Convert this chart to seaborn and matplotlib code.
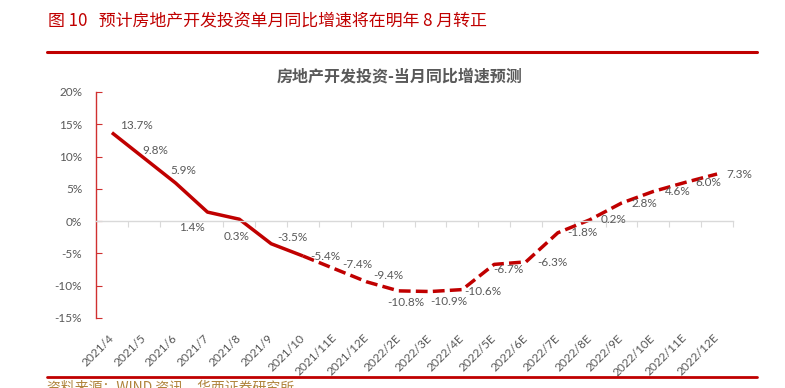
import numpy as np
import pandas as pd
import matplotlib
matplotlib.use("Agg")
import matplotlib.pyplot as plt
import seaborn as sns

# ---------------- data ----------------
categories = ["2021/4", "2021/5", "2021/6", "2021/7", "2021/8", "2021/9", "2021/10",
              "2021/11E", "2021/12E", "2022/2E", "2022/3E", "2022/4E", "2022/5E",
              "2022/6E", "2022/7E", "2022/8E", "2022/9E", "2022/10E", "2022/11E", "2022/12E"]
values = [13.7, 9.8, 5.9, 1.4, 0.3, -3.5, -5.4, -7.4, -9.4, -10.8, -10.9, -10.6,
          -6.7, -6.3, -1.8, 0.2, 2.8, 4.6, 6.0, 7.3]
n_actual = 7  # 2021/4 .. 2021/10 are actual values; forecast starts from 2021/10
yticks = [20, 15, 10, 5, 0, -5, -10, -15]

# label offsets (pixels) relative to each point: (dx, dy up)
label_offsets = [(25, 7), (12, 7), (8, 13), (-16, -15), (-3, -17), (21, 6), (22, 0),
                 (22, 4), (22, 6), (7, -12), (18, -10), (21, -2), (14, -5), (26, -1),
                 (25, 0), (24, 0), (23, 0), (24, 0), (23, 0), (22, 0)]

fig_title = "图 10   预计房地产开发投资单月同比增速将在明年 8 月转正"
chart_title = "房地产开发投资-当月同比增速预测"
source = "资料来源：WIND 资讯，华西证券研究所"

# ---------------- style ----------------
sns.set_theme(style="white")
plt.rcParams["font.family"] = ["Noto Sans CJK SC", "DejaVu Sans"]
num_font = ["Lato", "DejaVu Sans"]

RED = "#C00000"
GRAY = "#595959"

df = pd.DataFrame({"pos": np.arange(len(categories)), "val": values, "cat": categories})
df_act = df.iloc[:n_actual]
df_fc = df.iloc[n_actual - 1:]

fig = plt.figure(figsize=(7.85, 3.88), dpi=100)
W, H = 785, 388
ax = fig.add_axes([96 / W, 1 - 318 / H, (733 - 96) / W, 226 / H])

sns.lineplot(data=df_act, x="pos", y="val", ax=ax, color=RED, linewidth=2.5,
             solid_capstyle="butt")
sns.lineplot(data=df_fc, x="pos", y="val", ax=ax, color=RED, linewidth=2.5)
ax.lines[-1].set_dashes((3.4, 1.5))
ax.lines[-1].set_dash_capstyle("butt")

ax.set_xlim(-0.5, len(categories) - 0.5)
ax.set_ylim(-15, 20)
ax.set_xlabel("")
ax.set_ylabel("")

# y axis
ax.set_yticks(yticks)
ax.set_yticklabels([f"{t}%" for t in yticks], fontsize=8.5, color=GRAY, family=num_font)
ax.tick_params(axis="y", direction="in", length=4, width=0.8, color="#D03030", pad=10, left=True)
ax.spines["left"].set_color("#D03030")
ax.spines["left"].set_linewidth(1.0)
ax.spines["top"].set_visible(False)
ax.spines["right"].set_visible(False)

# zero line as bottom spine with boundary ticks
ax.spines["bottom"].set_position(("data", 0))
ax.spines["bottom"].set_color("#D9D9D9")
ax.spines["bottom"].set_linewidth(1.0)
ax.set_xticks(df["pos"])
ax.set_xticklabels([])
ax.set_xticks(np.arange(len(categories) + 1) - 0.5, minor=True)
ax.tick_params(axis="x", which="major", length=0, bottom=False)
ax.tick_params(axis="x", which="minor", length=4, width=0.8, color="#D9D9D9",
               direction="out", bottom=True)

# category labels at bottom of the axes
sec = ax.secondary_xaxis(0.0)
sec.set_xticks(df["pos"])
sec.set_xticklabels(df["cat"], rotation=45, ha="right", va="center",
                    rotation_mode="anchor", fontsize=8.6, color=GRAY, family=num_font)
sec.tick_params(length=0, pad=13)
sec.spines["bottom"].set_visible(False)

# data labels
for (p, v), (dx, dy) in zip(zip(df["pos"], df["val"]), label_offsets):
    ax.annotate(f"{v:.1f}%", (p, v), xytext=(dx, dy), textcoords="offset pixels",
                ha="center", va="center", fontsize=8.5, color=GRAY, family=num_font)

# titles and decorations
fig.text(400 / W, 1 - 76 / H, chart_title, ha="center", va="center", fontsize=11.5,
         color=GRAY, fontweight="bold")
fig.text(48 / W, 1 - 21 / H, fig_title, ha="left", va="center", fontsize=12.2, color=RED)
fig.add_artist(plt.Line2D([47 / W, 757 / W], [1 - 52 / H, 1 - 52 / H], color="#C00000", lw=2.2))
fig.add_artist(plt.Line2D([47 / W, 757 / W], [1 - 377 / H, 1 - 377 / H], color="#C00000", lw=2.0))
fig.text(47 / W, 1 - 380 / H, source, ha="left", va="top", fontsize=10, color="#B0843C")

fig.savefig("out.png", dpi=100)
